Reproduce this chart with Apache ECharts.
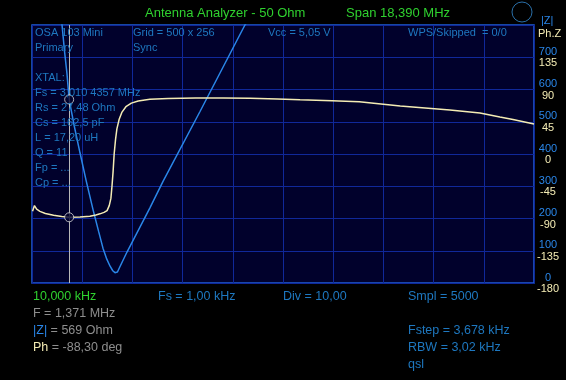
<!DOCTYPE html>
<html>
<head>
<meta charset="utf-8">
<script src="https://cdn.jsdelivr.net/npm/echarts@6/dist/echarts.min.js"></script>
<style>
html,body{margin:0;padding:0;background:#000;}
#c{width:566px;height:380px;}
</style>
</head>
<body>
<div id="c"></div>
<script>
// ---- data ----
// |Z| magnitude curve (frequency in MHz, impedance in Ohm)
const zFreq = [0.05, 0.30, 0.60, 0.90, 1.11, 1.20, 1.29, 1.371, 1.55, 1.77, 2.00, 2.25, 2.45, 2.61, 2.75, 2.87, 2.97, 3.05, 3.09, 3.14, 3.20, 3.49, 4.33, 4.81, 6.16, 7.81, 10.0, 14.0, 18.40];
const zVals = [9000, 2700, 1350, 950, 800, 720, 650, 569, 490, 403, 315, 226, 160, 108, 74, 52, 38, 32, 31, 34, 45, 96, 233, 315, 531, 800, 1050, 1500, 1980];
// phase curve (frequency in MHz, degrees)
const phFreq = [0.03, 0.10, 0.18, 0.30, 0.50, 0.80, 1.10, 1.371, 1.77, 2.13, 2.35, 2.50, 2.65, 2.76, 2.84, 2.90, 2.94, 2.98, 3.02, 3.07, 3.12, 3.20, 3.30, 3.45, 3.65, 3.90, 4.33, 5.00, 6.00, 7.00, 8.00, 9.00, 9.83, 11.0, 12.0, 13.5, 15.32, 16.42, 17.15, 17.63, 18.40];
const phVals = [-80.0, -72.0, -77.0, -80.0, -83.0, -85.5, -87.3, -88.3, -88.0, -86.8, -85.0, -83.5, -81.5, -79.0, -72.0, -62.0, -45.0, -25.0, 0.0, 20.0, 35.0, 48.0, 58.0, 66.0, 71.0, 74.0, 76.3, 77.5, 78.0, 78.1, 77.8, 76.8, 75.6, 74.2, 73.0, 67.0, 61.4, 57.2, 51.6, 48.0, 42.0];
// marker
const markerFreq = 1.371;
const markerZ = 569;
const markerPh = -88.30;
// axis tick labels
const zTicks = [0, 100, 200, 300, 400, 500, 600, 700];
const phTicks = [-180, -135, -90, -45, 0, 45, 90, 135];
const xStart = 0.01, xSpan = 18.39;

const FONT = 'Liberation Sans';
const cBlue = '#2a86e8';
const cText = '#1e78c0';
const cCream = '#f4ecb4';
const cGreen = '#2fd12f';
const cGray = '#8e8e8e';
const cGrid = '#10289a';

const chart = echarts.init(document.getElementById('c'), null, {renderer: 'canvas'});

function txt(x, y, text, color, size, extra) {
  return Object.assign({
    type: 'text', x: x, y: y, z: 100,
    style: {text: text, fill: color, font: (size || 11) + 'px "' + FONT + '"', textVerticalAlign: 'middle'}
  }, extra || {});
}

const plotLines = [
  ['OSA 103 Mini', 35, 33], ['Primary', 35, 48], ['XTAL:', 35, 78],
  ['Fs = 3,010 4357 MHz', 35, 93], ['Rs = 27,48 Ohm', 35, 108], ['Cs = 162,5 pF', 35, 123],
  ['L = 17,20 uH', 35, 138], ['Q = 11', 35, 153], ['Fp = ...', 35, 168], ['Cp = ...', 35, 183],
  ['Grid = 500 x 256', 133, 33], ['Sync', 133, 48], ['Vcc = 5,05 V', 268, 33], ['WPS/Skipped  = 0/0', 408, 33]
];

const graphics = plotLines.map(p => txt(p[1], p[2], p[0], cText, 11));
graphics.push(txt(145, 13, 'Antenna Analyzer - 50 Ohm', cGreen, 13));
graphics.push(txt(346, 13, 'Span 18,390 MHz', cGreen, 13));
graphics.push({type: 'circle', shape: {cx: 522, cy: 12, r: 10}, style: {fill: 'none', stroke: '#2a6fa8', lineWidth: 1}, z: 100});
graphics.push(txt(541, 21, '|Z|', cBlue, 11));
graphics.push(txt(538, 34, 'Ph.Z', cCream, 11));
// bottom
graphics.push(txt(33, 297, '10,000 kHz', cGreen, 12.5));
graphics.push(txt(158, 297, 'Fs = 1,00 kHz', cText, 12.5));
graphics.push(txt(283, 297, 'Div = 10,00', cText, 12.5));
graphics.push(txt(408, 297, 'Smpl = 5000', cText, 12.5));
graphics.push(txt(33, 314, 'F = 1,371 MHz', cGray, 12.5));
graphics.push({type: 'text', x: 33, y: 331, z: 100, style: {
  text: '{a||Z|}{b| = 569 Ohm}', textVerticalAlign: 'middle',
  rich: {a: {fill: cBlue, font: '12.5px "' + FONT + '"'}, b: {fill: cGray, font: '12.5px "' + FONT + '"'}}}});
graphics.push({type: 'text', x: 33, y: 348, z: 100, style: {
  text: '{a|Ph}{b| = -88,30 deg}', textVerticalAlign: 'middle',
  rich: {a: {fill: cCream, font: '12.5px "' + FONT + '"'}, b: {fill: cGray, font: '12.5px "' + FONT + '"'}}}});
graphics.push(txt(408, 331, 'Fstep = 3,678 kHz', cText, 12.5));
graphics.push(txt(408, 348, 'RBW = 3,02 kHz', cText, 12.5));
graphics.push(txt(408, 365, 'qsl', cText, 12.5));

const option = {
  backgroundColor: '#000000',
  animation: false,
  textStyle: {fontFamily: FONT},
  grid: {left: 32, top: 25, width: 502, height: 258, show: true, backgroundColor: '#01012c', borderColor: '#1f5fd8', borderWidth: 1.5, containLabel: false},
  xAxis: [
    {type: 'value', min: xStart, max: xStart + xSpan, show: false},
    {type: 'value', min: 0, max: 10, interval: 1, axisLine: {show: false}, axisTick: {show: false}, axisLabel: {show: false},
     splitLine: {show: true, lineStyle: {color: cGrid, width: 1}}}
  ],
  yAxis: [
    {type: 'value', min: 0, max: 800, interval: 100, position: 'right', offset: 0,
     axisLine: {show: false}, axisTick: {show: false},
     splitLine: {show: true, lineStyle: {color: cGrid, width: 1}},
     axisLabel: {show: true, margin: 14, align: 'center', verticalAlign: 'bottom', lineHeight: 11, color: cBlue, fontSize: 11, fontFamily: FONT,
       formatter: v => zTicks.indexOf(v) >= 0 ? String(v) : ''}},
    {type: 'value', min: -180, max: 180, interval: 45, position: 'right', offset: 0,
     axisLine: {show: false}, axisTick: {show: false}, splitLine: {show: false},
     axisLabel: {show: true, margin: 14, align: 'center', verticalAlign: 'top', lineHeight: 12, color: cCream, fontSize: 11, fontFamily: FONT,
       formatter: v => phTicks.indexOf(v) >= 0 ? String(v) : ''}}
  ],
  graphic: graphics,
  series: [
    {type: 'line', name: '|Z|', xAxisIndex: 0, yAxisIndex: 0, clip: true, showSymbol: false, smooth: false,
     lineStyle: {color: cBlue, width: 1.5}, data: zFreq.map((f, i) => [f, zVals[i]]),
     markLine: {silent: true, symbol: 'none', label: {show: false}, lineStyle: {color: '#b8b8b8', width: 1, type: 'solid'}, data: [{xAxis: markerFreq}]}},
    {type: 'line', name: 'Ph', xAxisIndex: 0, yAxisIndex: 1, clip: true, showSymbol: false, smooth: false,
     lineStyle: {color: cCream, width: 1.5}, data: phFreq.map((f, i) => [f, phVals[i]])},
    {type: 'scatter', xAxisIndex: 0, yAxisIndex: 0, symbol: 'circle', symbolSize: 9, z: 10,
     itemStyle: {color: '#01012c', borderColor: '#d8d8d8', borderWidth: 1}, data: [[markerFreq, markerZ]]},
    {type: 'scatter', xAxisIndex: 0, yAxisIndex: 1, symbol: 'circle', symbolSize: 9, z: 10,
     itemStyle: {color: '#01012c', borderColor: '#d8d8d8', borderWidth: 1}, data: [[markerFreq, markerPh]]}
  ]
};
chart.setOption(option);
</script>
</body>
</html>
